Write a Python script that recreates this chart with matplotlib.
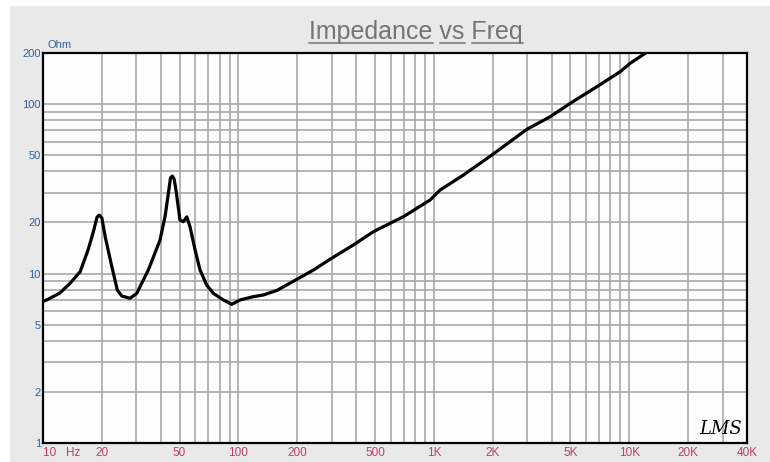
import matplotlib
matplotlib.use("Agg")
import matplotlib.pyplot as plt
from matplotlib.lines import Line2D
from matplotlib.patches import Rectangle

# impedance curve (Hz, Ohm)
freq = [10, 10.5, 12.2, 13.8, 15.5, 17.0, 18.1, 18.9, 19.4, 20.0, 20.8, 22.5,
        24.0, 25.3, 27.9, 30.2, 32.6, 34.6, 39.7, 42.1, 43.8, 44.9, 45.9, 46.9,
        47.9, 50.2, 52.2, 54.4, 56.5, 60.0, 63.6, 68.8, 74.4, 78.9, 83.7, 92.4,
        101.9, 119, 134, 157, 199, 242, 294, 387, 490, 597, 698, 817, 956,
        1076, 1416, 1978, 2988, 3932, 4979, 6818, 8974, 10095, 12046, 15000,
        20000, 40000]
impedance = [6.85, 7.0, 7.67, 8.79, 10.25, 13.76, 17.64, 21.5, 22.1, 21.3, 16.5,
             10.97, 7.99, 7.37, 7.14, 7.64, 9.16, 10.49, 15.76, 21.63, 29.7, 36.7,
             37.6, 36.0, 31.1, 20.7, 20.2, 21.6, 18.9, 13.76, 10.49, 8.55, 7.64,
             7.30, 6.98, 6.58, 6.98, 7.30, 7.47, 7.94, 9.24, 10.49, 12.13, 14.73,
             17.64, 19.78, 21.63, 24.25, 27.14, 31.1, 38.1, 50.0, 70.9, 84.1,
             100.9, 126.5, 155.1, 173.9, 199.1, 240, 300, 550]

x_major = [10, 20, 50, 100, 200, 500, 1000, 2000, 5000, 10000, 20000, 40000]
x_labels = ["10   Hz", "20", "50", "100", "200", "500", "1K", "2K", "5K",
            "10K", "20K", "40K"]
x_minor = [30, 40, 60, 70, 80, 90, 300, 400, 600, 700, 800, 900,
           3000, 4000, 6000, 7000, 8000, 9000, 30000]
y_major = [1, 2, 5, 10, 20, 50, 100, 200]
y_labels = ["1", "2", "5", "10", "20", "50", "100", "200"]
y_minor = [3, 4, 6, 7, 8, 9, 30, 40, 60, 70, 80, 90]

FONT = "Liberation Sans"
BLUE = "#30609f"
PINK = "#c23a70"
GRID = "#a8a8a8"

fig = plt.figure(figsize=(7.7, 4.62), dpi=100, facecolor="white")
fig.add_artist(Rectangle((10 / 770, 0), 1, 1 - 6 / 462, transform=fig.transFigure,
                         facecolor="#e9e9e9", edgecolor="none", zorder=-10))

ax = fig.add_axes([43 / 770, 1 - 443 / 462, 704 / 770, 390 / 462])
ax.set_facecolor("#fefefe")
ax.set_xscale("log")
ax.set_yscale("log")
ax.set_xlim(10, 40000)
ax.set_ylim(1, 200)

ax.plot(freq, impedance, color="black", lw=2.3, solid_joinstyle="round",
        solid_capstyle="round", zorder=3)

ax.set_xticks(x_major)
ax.set_xticklabels(x_labels)
ax.set_xticks(x_minor, minor=True)
ax.set_yticks(y_major)
ax.set_yticklabels(y_labels)
ax.set_yticks(y_minor, minor=True)
ax.xaxis.set_minor_formatter(plt.NullFormatter())
ax.yaxis.set_minor_formatter(plt.NullFormatter())
ax.tick_params(which="both", length=0)
ax.tick_params(axis="x", pad=3, labelsize=8.5, labelcolor=PINK)
ax.tick_params(axis="y", pad=1.5, labelsize=8, labelcolor=BLUE)
for lab in ax.get_xticklabels():
    lab.set_fontfamily(FONT)
for lab in ax.get_yticklabels():
    lab.set_fontfamily(FONT)
ax.get_xticklabels()[0].set_horizontalalignment("left")
ax.grid(True, which="both", color=GRID, lw=1.2)

for side in ["top", "right", "left", "bottom"]:
    ax.spines[side].set_color("black")
    ax.spines[side].set_linewidth(1.6)
    ax.spines[side].set_zorder(4)

fig.text(47 / 770, 1 - 45 / 462, "Ohm", color=BLUE, fontsize=8, family=FONT,
         ha="left", va="center")

ax.text(0.962, 0.036, "LMS", transform=ax.transAxes, fontsize=13,
        family="DejaVu Serif", style="italic", color="black",
        ha="center", va="center", zorder=5)

# title with each word underlined
title = "Impedance vs Freq"
tkw = dict(fontsize=18, family=FONT, color="#747474")
ty = 1 - 39.5 / 462
t = fig.text(416 / 770, ty, title, ha="center", va="baseline", **tkw)
fig.canvas.draw()
renderer = fig.canvas.get_renderer()


def text_width(s):
    tmp = fig.text(0, 0, s, **tkw)
    w = tmp.get_window_extent(renderer).width
    tmp.remove()
    return w


x0 = t.get_window_extent(renderer).x0
pos = 0
for word in title.split(" "):
    start = title.index(word, pos)
    end = start + len(word)
    pos = end
    x_end = x0 + text_width(title[:end])
    x_start = x_end - text_width(word)
    yl = ty * 462 - 3
    fig.add_artist(Line2D([x_start / 770, x_end / 770], [yl / 462, yl / 462],
                          transform=fig.transFigure, color="#747474", lw=1.1))

fig.savefig("out.png", dpi=100, facecolor=fig.get_facecolor())
